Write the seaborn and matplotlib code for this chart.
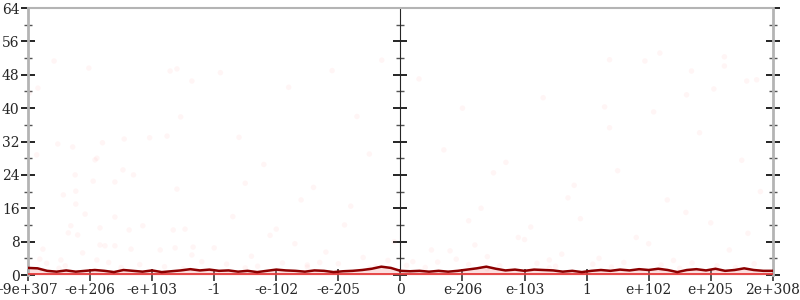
import numpy as np
import pandas as pd
import matplotlib
matplotlib.use("Agg")
import matplotlib.pyplot as plt
import seaborn as sns

# ---- data ----
tick_labels = ["-9e+307", "-e+206", "-e+103", "-1", "-e-102", "-e-205", "0",
               "e-206", "e-103", "1", "e+102", "e+205", "2e+308"]
tick_pos = list(range(13))

line_vals = [1.7, 1.6, 1.0, 0.8, 1.1, 0.8, 1.0, 1.2, 1.0, 0.7, 1.2, 1.0, 0.8, 1.1,
             0.7, 0.9, 1.1, 1.4, 1.1, 1.3, 1.0, 1.1, 0.8, 1.0, 0.7, 1.0, 1.3, 1.1,
             1.0, 0.8, 1.1, 1.0, 0.7, 0.9, 1.0, 1.2, 1.5, 2.0, 1.7, 1.0, 0.9, 1.0,
             0.8, 1.0, 0.8, 1.0, 1.3, 1.6, 2.0, 1.5, 1.1, 1.3, 1.0, 1.3, 1.2, 1.1,
             0.8, 1.0, 0.7, 1.0, 1.2, 1.0, 1.3, 1.1, 1.4, 1.2, 1.5, 1.2, 0.7, 1.2,
             1.4, 1.1, 1.5, 1.0, 1.2, 1.6, 1.2, 1.0, 1.0]
line_x = np.linspace(0, 12, len(line_vals))

scatter_x = [0.42, 0.98, 0.16, 0.02, 2.29, 2.40, 2.64, 2.46, 2.24, 1.96, 1.55, 1.20, 0.48, 0.72,
             9.37, 9.94, 10.18, 11.22, 11.22, 10.69, 11.58, 11.74, 11.05, 10.61, 9.29, 10.08, 9.37, 10.82,
             0.14, 1.08, 1.11, 1.53, 1.70, 0.76, 1.05, 1.40, 2.40, 0.57, 0.77, 0.77, 0.92, 1.40,
             1.16, 0.69, 1.63, 1.85, 2.34, 2.53, 0.65, 0.80, 1.16, 1.24, 1.40, 0.24, 0.88, 1.66,
             2.13, 2.37, 2.66, 2.64, 0.19, 0.53, 1.11,
             3.1, 3.4, 3.8, 4.2, 4.6, 4.9, 5.3, 5.7, 3.3, 3.9, 4.4, 5.1, 5.5, 5.9,
             3.0, 3.6, 4.0, 4.8, 5.2, 5.8, 3.5, 4.3, 4.7, 5.4,
             6.3, 6.7, 7.1, 7.5, 7.9, 8.3, 8.7, 6.5, 7.0, 7.7, 8.1, 8.6, 6.9, 7.3, 8.0, 8.8,
             6.2, 6.8, 7.4, 8.4, 8.9, 7.2,
             9.5, 10.3, 11.0, 11.5, 9.8, 10.6, 11.3, 11.8, 9.2, 10.0, 11.6, 10.4,
             0.3, 0.6, 1.3, 1.8, 2.2, 2.8, 3.2, 3.7, 4.1, 4.5, 5.0, 5.6, 6.1, 6.6,
             7.1, 7.6, 8.2, 8.5, 9.1, 9.6, 10.2, 10.7, 11.1, 11.7,
             0.5, 1.5, 2.5, 3.5, 4.5, 5.5, 6.4, 7.4, 8.4, 9.4, 10.5, 11.4]
scatter_y = [51.3, 49.6, 44.8, 43.6, 48.9, 49.4, 46.5, 37.9, 33.3, 32.9, 32.6, 31.7, 31.4, 30.7,
             51.6, 51.3, 53.2, 52.3, 50.1, 48.9, 46.5, 46.8, 44.6, 43.2, 40.3, 39.1, 35.3, 34.1,
             28.8, 27.6, 28.0, 25.2, 24.0, 24.0, 22.5, 22.3, 20.6, 19.2, 20.1, 17.0, 14.6, 13.9,
             11.3, 11.8, 10.8, 11.8, 10.8, 11.0, 10.1, 9.6, 7.2, 7.0, 7.0, 6.2, 5.3, 6.2,
             6.0, 6.5, 6.7, 4.8, 3.8, 3.6, 3.6,
             48.5, 33.0, 26.5, 45.0, 21.0, 49.0, 38.0, 51.5, 14.0, 9.5, 18.0, 12.0, 29.0, 8.0,
             6.5, 4.5, 11.0, 5.5, 16.5, 3.5, 22.0, 7.5, 3.0, 4.2,
             47.0, 30.0, 13.0, 24.5, 9.0, 42.5, 18.5, 6.0, 40.0, 27.0, 11.5, 5.0, 3.8, 16.0, 8.5, 21.5,
             3.2, 5.8, 4.4, 3.6, 13.5, 7.2,
             25.0, 18.0, 12.5, 27.5, 9.0, 15.0, 6.0, 20.0, 4.0, 7.5, 10.0, 3.5,
             2.8, 2.2, 3.0, 2.5, 2.0, 3.2, 2.6, 2.1, 2.9, 2.4, 2.7, 2.0, 2.3, 3.1,
             2.5, 2.2, 2.8, 2.1, 2.6, 3.0, 2.4, 2.9, 2.2, 2.7,
             1.6, 1.8, 1.5, 1.7, 1.9, 1.6, 1.8, 1.5, 1.7, 1.9, 1.6, 1.8]

# ---- plot ----
sns.set_style("white")
plt.rcParams['font.family'] = ['DejaVu Serif']

fig = plt.figure(figsize=(8, 3), dpi=100)
ax = fig.add_axes([0.035, 0.0833, 0.931, 0.89])

sdf = pd.DataFrame({"x": scatter_x, "y": scatter_y})
sns.scatterplot(data=sdf, x="x", y="y", ax=ax, color="#ff9a9a", alpha=0.09,
                s=16, edgecolor="none", zorder=1)

ldf = pd.DataFrame({"x": line_x, "y": line_vals})
ax.fill_between(line_x, 0, line_vals, color="#f08080", alpha=0.25, lw=0, zorder=2)
ax.fill_between(line_x, 0, [0.45] * len(line_x), color="#e43a3a", alpha=0.9, lw=0, zorder=3)
sns.lineplot(data=ldf, x="x", y="y", ax=ax, color="#8b0000", lw=1.8, zorder=4)

ax.set_xlim(0, 12)
ax.set_ylim(0, 64)
ax.set_xlabel("")
ax.set_ylabel("")
ax.set_xticks(tick_pos)
ax.set_xticklabels(tick_labels)
ax.set_yticks(range(0, 65, 8))
ax.set_yticks(range(4, 64, 8), minor=True)

for s in ["left", "right"]:
    ax.spines[s].set_color("#b4b4b4")
    ax.spines[s].set_linewidth(2)
ax.spines["top"].set_color("#b4b4b4")
ax.spines["top"].set_linewidth(1.5)
ax.spines["bottom"].set_visible(False)

ax.tick_params(axis="y", which="major", direction="inout", length=10, width=1.2,
               color="black", left=True, right=True, labelsize=10, pad=1)
ax.tick_params(axis="y", which="minor", direction="inout", length=6, width=1,
               color="#555555", left=True, right=True)
ax.tick_params(axis="x", which="major", direction="inout", length=8, width=1.2,
               color="#333333", bottom=True, labelsize=10, pad=2)

sec = ax.secondary_yaxis(0.5)
sec.set_yticks(range(0, 65, 8))
sec.set_yticks(range(4, 64, 8), minor=True)
sec.set_yticklabels([])
sec.spines["left"].set_color("#b4b4b4")
sec.spines["left"].set_linewidth(1.5)
sec.tick_params(which="major", direction="inout", length=10, width=1.2, color="black")
sec.tick_params(which="minor", direction="inout", length=6, width=1, color="#555555")

fig.savefig("out.png", dpi=100)
